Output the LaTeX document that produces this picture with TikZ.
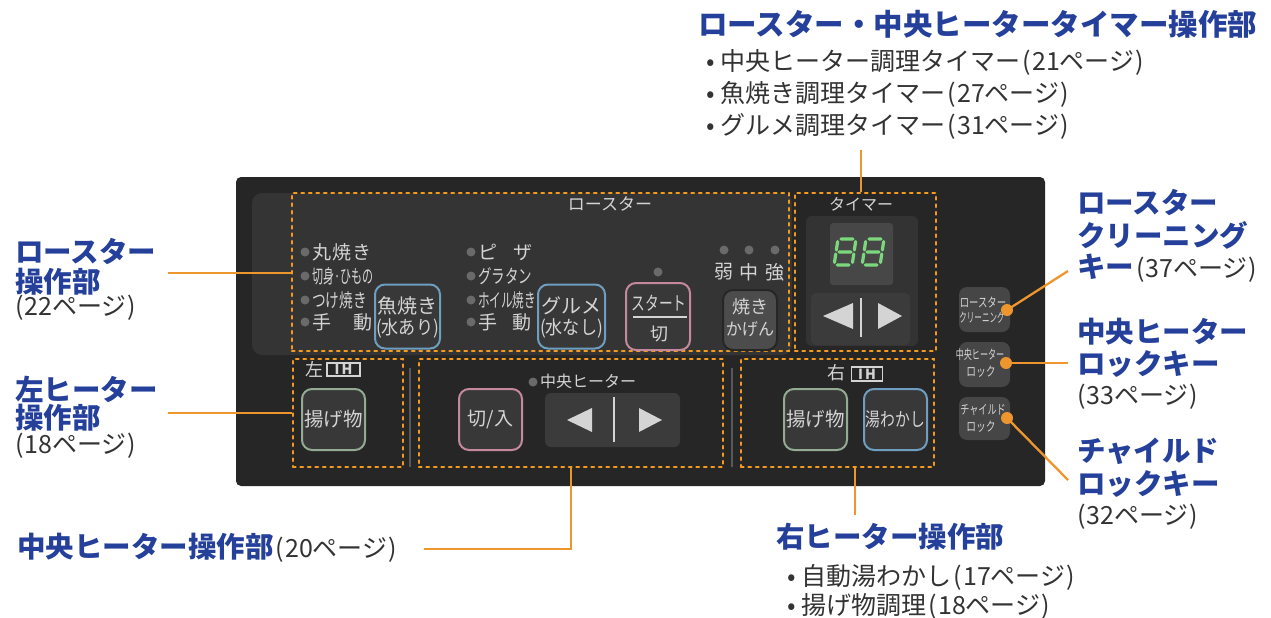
\documentclass[tikz,border=0pt]{standalone}
\usepackage{fontspec}
\setmainfont{Noto Sans CJK JP}
\usepackage{graphicx}
\usetikzlibrary{calc}
\definecolor{lblue}{HTML}{24409A}
\definecolor{tgray}{HTML}{333333}
\definecolor{zorange}{HTML}{F39A1F}
\definecolor{corange}{HTML}{EE962E}
\definecolor{panelc}{HTML}{262626}
\definecolor{panelhi}{HTML}{343434}
\definecolor{ptext}{HTML}{D4D4D4}
\definecolor{bblue}{HTML}{6E9EC0}
\definecolor{bpink}{HTML}{C6899C}
\definecolor{bgreen}{HTML}{93AA93}
\definecolor{ledgray}{HTML}{6A6A6A}
\definecolor{segg}{HTML}{7CD87C}
\definecolor{btnfill}{HTML}{383838}
\definecolor{padfill}{HTML}{3B3B3B}
\definecolor{keyfill}{HTML}{464646}
\newcommand\fsz[1]{\fontsize{#1}{#1}\selectfont}
\newcommand\pgref[1]{(\kern1pt #1ページ\kern1pt)}
\newcommand\segeight[2]{\begin{scope}[shift={(#1,#2)},xslant=0.15]
 \draw[seg] (3,0)--(15,0) (18,2.5)--(18,11) (18,15)--(18,23.5) (3,26)--(15,26)
 (0,15)--(0,23.5) (0,2.5)--(0,11) (3,13)--(15,13);\end{scope}}
\begin{document}
\begin{tikzpicture}[x=1pt,y=-1pt,
  zone/.style={draw=zorange,line width=2.6pt,dash pattern=on 2.5pt off 5pt,line cap=round,rectangle,inner sep=0},
  conn/.style={draw=corange,line width=2.3pt},
  lbl/.style={anchor=west,inner sep=0,text=lblue,font=\fsz{28.5}\bfseries},
  ref/.style={anchor=west,inner sep=0,text=tgray,font=\fsz{25}},
  ptxt/.style={inner sep=0,text=ptext},
  led/.style={circle,fill=ledgray,minimum size=9,inner sep=0},
  btn/.style={rectangle,rounded corners=10,line width=2pt,fill=btnfill,inner sep=0},
  keybtn/.style={rectangle,rounded corners=8,fill=keyfill,inner sep=0,minimum width=51},
  odot/.style={circle,fill=corange,minimum size=12,inner sep=0},
  ihbox/.style={draw=ptext,line width=1.3pt,text=ptext,inner sep=0,minimum width=33,minimum height=13,font=\fsz{14}\bfseries},
  seg/.style={draw=segg,line width=3.2pt,line cap=round},
  tri/.style={fill=ptext},
  sepline/.style={draw=black!65,line width=2pt}]
\useasboundingbox (0,0) rectangle (1271,618);
\fill[white] (0,0) rectangle (1271,618);
% panel
\fill[panelc,rounded corners=5] (236,177) rectangle (1045,486);
\fill[panelhi,rounded corners=10] (252,193) rectangle (792,355);
% zones
\node[zone,minimum width=497,minimum height=158] (zroast) at (540.5,272) {};
\node[zone,minimum width=141,minimum height=158] (ztimer) at (865.5,272) {};
\node[zone,minimum width=110,minimum height=108] (zleft) at (348,413) {};
\node[zone,minimum width=304,minimum height=108] (zcenter) at (571,413) {};
\node[zone,minimum width=193,minimum height=108] (zright) at (837.5,413) {};
% roaster area
\node[ptxt,font=\fsz{17}] (troast) at (610,204) {ロースター};
\foreach \yy/\nm in {252/a,276/b,300/c,322/d}{
  \node[led] (la\nm) at (305,\yy) {};
  \node[led] (lb\nm) at (471,\yy) {};}
\node[ptxt,anchor=west,font=\fsz{19}] (ta1) at (312,252) {丸\kern1pt 焼\kern1pt き};
\node[ptxt,anchor=west,font=\fsz{19}] (ta2) at (312,276) {\scalebox{0.58}[1]{切身·ひもの}};
\node[ptxt,anchor=west,font=\fsz{19}] (ta3) at (312,300) {\scalebox{0.72}[1]{つけ焼き}};
\node[ptxt,anchor=west,font=\fsz{19}] (ta4) at (312,322) {手\kern22pt 動};
\node[ptxt,anchor=west,font=\fsz{19}] (tb1) at (478,252) {ピ\kern16pt ザ};
\node[ptxt,anchor=west,font=\fsz{19}] (tb2) at (478,276) {\scalebox{0.71}[1]{グラタン}};
\node[ptxt,anchor=west,font=\fsz{19}] (tb3) at (478,300) {\scalebox{0.61}[1]{ホイル焼き}};
\node[ptxt,anchor=west,font=\fsz{19}] (tb4) at (478,322) {手\kern15pt 動};
% roaster buttons
\node[btn,draw=bblue,minimum width=65,minimum height=64] (bfish) at (407.5,316.5) {};
\node[ptxt,font=\fsz{20}] (bfish1) at (407.5,306) {魚焼き};
\node[ptxt,font=\fsz{19}] (bfish2) at (407.5,328) {\scalebox{0.9}[1]{(水あり)}};
\node[btn,draw=bblue,minimum width=67,minimum height=64] (bgour) at (571.5,316.5) {};
\node[ptxt,font=\fsz{20}] (bgour1) at (571.5,306) {グルメ};
\node[ptxt,font=\fsz{19}] (bgour2) at (571.5,328) {\scalebox{0.9}[1]{(水なし)}};
\node[btn,draw=bpink,minimum width=64,minimum height=67] (bstart) at (658,316.5) {};
\node[ptxt,font=\fsz{19}] (bstart1) at (659,303) {\scalebox{0.72}[1]{スタート}};
\draw[draw=ptext,line width=1.5pt] ($(bstart.center)+(-25,0.5)$) -- ($(bstart.center)+(29,0.5)$);
\node[ptxt,font=\fsz{18}] (bstart2) at (659,334) {切};
\node[led] (lstart) at (658,272) {};
\node[btn,draw=black!85,fill=black!70,minimum width=54,minimum height=60] (bgrill) at (750,320) {};
\node[ptxt,font=\fsz{18}] (bgrill1) at (750,307) {焼き};
\node[ptxt,font=\fsz{17}] (bgrill2) at (750,329) {\scalebox{0.95}[1]{かげん}};
\node[led] (lw) at (724,250) {};
\node[led] (lm) at (749,250) {};
\node[led] (ls) at (775,250) {};
\node[ptxt,font=\fsz{19}] (tw) at (724,272) {弱};
\node[ptxt,font=\fsz{19}] (tm) at (749,272) {中};
\node[ptxt,font=\fsz{19}] (ts) at (775,272) {強};
% timer
\node[ptxt,font=\fsz{16}] (ttimer) at (861,204) {タイマー};
\fill[black!80,rounded corners=6] (806,216) rectangle (918,346);
\fill[black!72,rounded corners=3] (830,223) rectangle (893,285);
\segeight{838}{239}
\segeight{866}{239}
\fill[padfill,rounded corners=5] (811,293) rectangle (910,345);
\fill[tri] (823,316) -- (853,303) -- (853,329) -- cycle;
\draw[draw=ptext,line width=2.5pt] (861,298) -- (861,337);
\fill[tri] (902,316) -- (878,303) -- (878,329) -- cycle;
% left IH
\node[ptxt,font=\fsz{18}] (tleft) at (314,369.5) {左};
\node[ihbox] (ihl) at (343.5,369.5) {I\kern2pt H};
\node[btn,draw=bgreen,minimum width=63,minimum height=61] (bfryl) at (333.5,419.5) {};
\node[ptxt,font=\fsz{19.5}] at (bfryl.center) {揚げ物};
\draw[sepline] (410,368) -- (410,467);
\draw[sepline] (732,368) -- (732,467);
% center
\node[led] (lc) at (533,382) {};
\node[ptxt,anchor=west,font=\fsz{16}] (tcenter) at (540,381) {中央ヒーター};
\node[btn,draw=bpink,minimum width=63,minimum height=61] (bonoff) at (490.5,419.5) {};
\node[ptxt,font=\fsz{19}] at (bonoff.center) {切/入};
\fill[padfill,rounded corners=6] (545,393) rectangle (680,447);
\fill[tri] (567,420) -- (592,408) -- (592,432) -- cycle;
\draw[draw=ptext,line width=2.5pt] (614,397) -- (614,442);
\fill[tri] (662,420) -- (639,408) -- (639,432) -- cycle;
% right IH
\node[ptxt,font=\fsz{18}] (tright) at (836,373) {右};
\node[ihbox,minimum width=31,minimum height=14] (ihr) at (867,374) {I\kern2pt H};
\node[btn,draw=bgreen,minimum width=63,minimum height=61] (bfryr) at (815.5,419.5) {};
\node[ptxt,font=\fsz{19.5}] at (bfryr.center) {揚げ物};
\node[btn,draw=bblue,minimum width=63,minimum height=61] (bboil) at (895.5,419.5) {};
\node[ptxt,font=\fsz{19}] at (bboil.center) {\scalebox{0.78}[1]{湯わかし}};
% side keys
\node[keybtn,minimum height=45] (k1) at (984.5,309.5) {};
\node[ptxt,font=\fsz{13}] at (983,302) {\scalebox{0.72}[1]{ロースター}};
\node[ptxt,font=\fsz{13}] at (982,317) {\scalebox{0.58}[1]{クリーニング}};
\node[keybtn,minimum height=45] (k2) at (984.5,364.5) {};
\node[ptxt,font=\fsz{13}] at (980,355) {\scalebox{0.62}[1]{中央ヒーター}};
\node[ptxt,font=\fsz{13}] at (981,372) {\scalebox{0.75}[1]{ロック}};
\node[keybtn,minimum height=43] (k3) at (984.5,418.5) {};
\node[ptxt,font=\fsz{13}] at (983,410) {\scalebox{0.7}[1]{チャイルド}};
\node[ptxt,font=\fsz{13}] at (981,427) {\scalebox{0.75}[1]{ロック}};
\node[odot] (od1) at (1007,310) {};
\node[odot] (od2) at (1006,363) {};
\node[odot] (od3) at (1007,418) {};
% top label
\node[lbl,font=\fsz{29.5}\bfseries] (ttl) at (698,24) {ロースター・中央ヒータータイマー操作部};
\node[ref] (tl1) at (706,62) {•\kern6pt 中央ヒーター調理タイマー\kern2pt\pgref{21}};
\node[ref] (tl2) at (706,94) {•\kern6pt 魚焼き調理タイマー\kern2pt\pgref{27}};
\node[ref] (tl3) at (706,126) {•\kern6pt グルメ調理タイマー\kern2pt\pgref{31}};
% left labels
\node[lbl] (lr1) at (15,251) {ロースター};
\node[lbl] (lr2) at (15,282) {操作部};
\node[ref] (lr3) at (15,308) {\pgref{22}};
\node[lbl] (ll1) at (15,389) {左ヒーター};
\node[lbl] (ll2) at (15,418) {操作部};
\node[ref] (ll3) at (15,446) {\pgref{18}};
% bottom labels
\node[lbl] (lc1) at (17,548) {中央ヒーター操作部{\mdseries\color{tgray}\fsz{25}\kern2pt\pgref{20}}};
\node[lbl] (lrt1) at (776,537) {右ヒーター操作部};
\node[ref] (lrt2) at (787,577) {•\kern6pt 自動湯わかし\kern2pt\pgref{17}};
\node[ref] (lrt3) at (787,606) {•\kern6pt 揚げ物調理\kern2pt\pgref{18}};
% right labels
\node[lbl] (rk1) at (1077,202) {ロースター};
\node[lbl] (rk2) at (1077,235) {クリーニング};
\node[lbl] (rk3) at (1077,268) {キー{\mdseries\color{tgray}\fsz{25}\kern2pt\pgref{37}}};
\node[lbl] (rc1) at (1077,332) {中央ヒーター};
\node[lbl] (rc2) at (1077,364) {ロックキー};
\node[ref] (rc3) at (1077,397) {\pgref{33}};
\node[lbl] (rl1) at (1077,451) {チャイルド};
\node[lbl] (rl2) at (1077,484) {ロックキー};
\node[ref] (rl3) at (1077,517) {\pgref{32}};
% connectors
\coordinate (e1) at (1068,271);
\coordinate (e2) at (1068,363);
\coordinate (e3) at (1068,480);
\coordinate (e4) at (168,273);
\coordinate (e5) at (168,413);
\coordinate (e6) at (861,150);
\coordinate (e7) at (424,549);
\coordinate (e8) at (855,515);
\draw[conn] (od1.center) -- (e1);
\draw[conn] (od2.center) -- (e2);
\draw[conn] (od3.center) -- (e3);
\draw[conn] (e4) -- (e4 -| zroast.west);
\draw[conn] (e5) -- (zleft.west);
\draw[conn] (e6) -- (e6 |- ztimer.north);
\draw[conn] (e7) -| (zcenter.south);
\draw[conn] (e8 |- zright.south) -- (e8);
\end{tikzpicture}
\end{document}
